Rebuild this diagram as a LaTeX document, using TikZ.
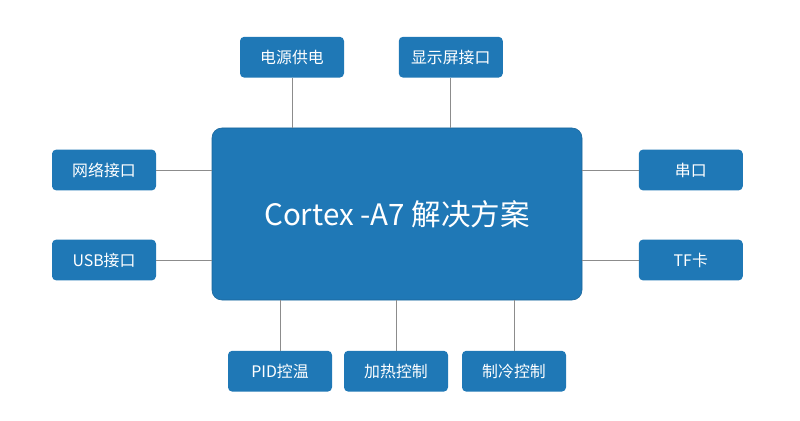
\documentclass[tikz,border=0pt]{standalone}
\usepackage{fontspec}
\setmainfont{Noto Sans CJK SC}
\usetikzlibrary{positioning}
\definecolor{boxblue}{HTML}{1F78B6}
\definecolor{linegray}{HTML}{8C8C8C}

\begin{document}
\begin{tikzpicture}
  \tikzstyle{part}=[rectangle,rounded corners=3pt,fill=boxblue,text=white,
    minimum width=2.6cm,minimum height=1.02cm,inner sep=0pt,font=\fontsize{11.3}{13}\selectfont]
  \tikzstyle{link}=[draw=linegray,line width=0.7pt]
  \useasboundingbox (0,0) rectangle (20,10.5);

  \node[rectangle,rounded corners=7pt,fill=boxblue,draw=boxblue!85!black,text=white,
    minimum width=9.25cm,minimum height=4.3cm,font=\fontsize{21}{25}\selectfont]
    (core) at (9.925,5.15) {Cortex -A7 解决方案};

  \node[part] (power) at (7.3,9.07) {电源供电};
  \draw[link] (power) -- (power |- core.north);

  \node[part] (display) at (11.27,9.07) {显示屏接口};
  \draw[link] (display) -- (display |- core.north);

  \node[part] (net) at (2.6,6.25) {网络接口};
  \draw[link] (net) -- (net -| core.west);

  \node[part] (usb) at (2.6,4) {USB接口};
  \draw[link] (usb) -- (usb -| core.west);

  \node[part] (uart) at (17.27,6.25) {串口};
  \draw[link] (uart) -- (uart -| core.east);

  \node[part] (tf) at (17.27,4) {TF卡};
  \draw[link] (tf) -- (tf -| core.east);

  \node[part] (pid) at (7,1.22) {PID控温};
  \draw[link] (pid) -- (pid |- core.south);

  \node[part] (heat) at (9.9,1.22) {加热控制};
  \draw[link] (heat) -- (heat |- core.south);

  \node[part] (cool) at (12.85,1.22) {制冷控制};
  \draw[link] (cool) -- (cool |- core.south);
\end{tikzpicture}
\end{document}
